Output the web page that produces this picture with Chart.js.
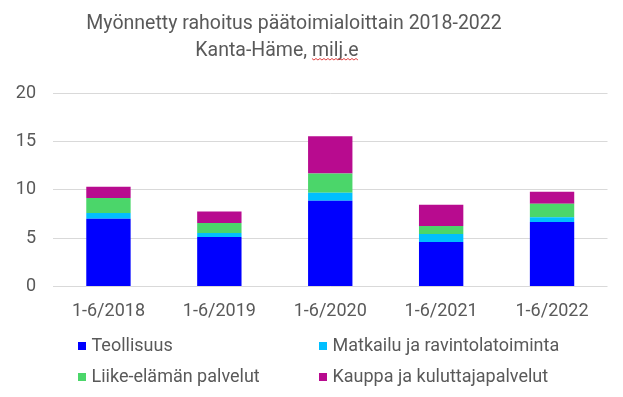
<!DOCTYPE html>
<html>
<head>
<meta charset="utf-8">
<script src="https://cdn.jsdelivr.net/npm/chart.js@4/dist/chart.umd.min.js"></script>
<style>
  body { margin: 0; background: #fff; }
  canvas { display: block; }
</style>
</head>
<body>
<canvas id="chart" width="623" height="397"></canvas>
<script>
const categories = ['1-6/2018', '1-6/2019', '1-6/2020', '1-6/2021', '1-6/2022'];
const seriesNames = ['Teollisuus', 'Matkailu ja ravintolatoiminta', 'Liike-elämän palvelut', 'Kauppa ja kuluttajapalvelut'];
const teollisuus = [7.0, 5.1, 8.85, 4.58, 6.67];
const matkailu = [0.6, 0.42, 0.84, 0.84, 0.48];
const liike = [1.55, 1.04, 1.98, 0.83, 1.39];
const kauppa = [1.15, 1.18, 3.85, 2.19, 1.25];
const titleLines = ['Myönnetty rahoitus päätoimialoittain 2018-2022', 'Kanta-Häme, milj.e'];
const colors = ['#0000ff', '#00bfff', '#4bd66a', '#b80b8f'];

const textColor = '#595959';
const fontFamily = 'Roboto, "Liberation Sans", sans-serif';

// title + 2x2 legend drawn on the canvas
const extras = {
    id: 'extras',
    afterDraw(chart) {
        const ctx = chart.ctx;
        ctx.save();
        ctx.fillStyle = textColor;
        ctx.font = '19.5px ' + fontFamily;
        ctx.textAlign = 'center';
        ctx.textBaseline = 'alphabetic';
        ctx.fillText(titleLines[0], 294, 28.5);
        ctx.fillText(titleLines[1], 277, 56);

        // spell-check squiggle under "milj.e"
        const w2 = ctx.measureText(titleLines[1]).width;
        const end = 277 + w2 / 2;
        const start = end - ctx.measureText('milj.e').width;
        ctx.strokeStyle = '#e04040';
        ctx.lineWidth = 1;
        ctx.beginPath();
        for (let x = start, k = 0; x <= end; x += 2, k++) {
            const y = 59 + (k % 2 ? 1 : -0.5);
            if (k === 0) ctx.moveTo(x, y); else ctx.lineTo(x, y);
        }
        ctx.stroke();

        const cols = [78, 319];
        const rows = [346, 377];
        ctx.font = '18px ' + fontFamily;
        ctx.textAlign = 'left';
        ctx.textBaseline = 'middle';
        chart.data.datasets.forEach((ds, i) => {
            const x = cols[i % 2];
            const y = rows[Math.floor(i / 2)];
            ctx.fillStyle = ds.backgroundColor;
            ctx.fillRect(x, y - 4, 8, 8);
            ctx.fillStyle = textColor;
            ctx.fillText(ds.label, x + 13.5, y);
        });
        ctx.restore();
    }
};

const ctx = document.getElementById('chart').getContext('2d');
new Chart(ctx, {
    type: 'bar',
    data: {
        labels: categories,
        datasets: [teollisuus, matkailu, liike, kauppa].map((values, i) => ({
            label: seriesNames[i],
            data: values,
            backgroundColor: colors[i],
            borderWidth: 0,
            barPercentage: 0.4,
            categoryPercentage: 1,
        })),
    },
    options: {
        responsive: false,
        maintainAspectRatio: false,
        animation: false,
        layout: {
            padding: { top: 93, right: 15.5, bottom: 69, left: 0 },
        },
        plugins: {
            legend: { display: false },
            title: { display: false },
            tooltip: { enabled: false },
        },
        scales: {
            x: {
                stacked: true,
                grid: { display: false },
                border: { display: false },
                ticks: {
                    color: textColor,
                    font: { family: fontFamily, size: 18 },
                    padding: 6,
                    maxRotation: 0,
                },
            },
            y: {
                stacked: true,
                min: 0,
                max: 20,
                afterFit(scale) { scale.width = 53; },
                grid: { color: '#d9d9d9', drawTicks: false },
                border: { display: false },
                ticks: {
                    stepSize: 5,
                    color: textColor,
                    font: { family: fontFamily, size: 18 },
                    padding: 17,
                },
            },
        },
    },
    plugins: [extras],
});
</script>
</body>
</html>
